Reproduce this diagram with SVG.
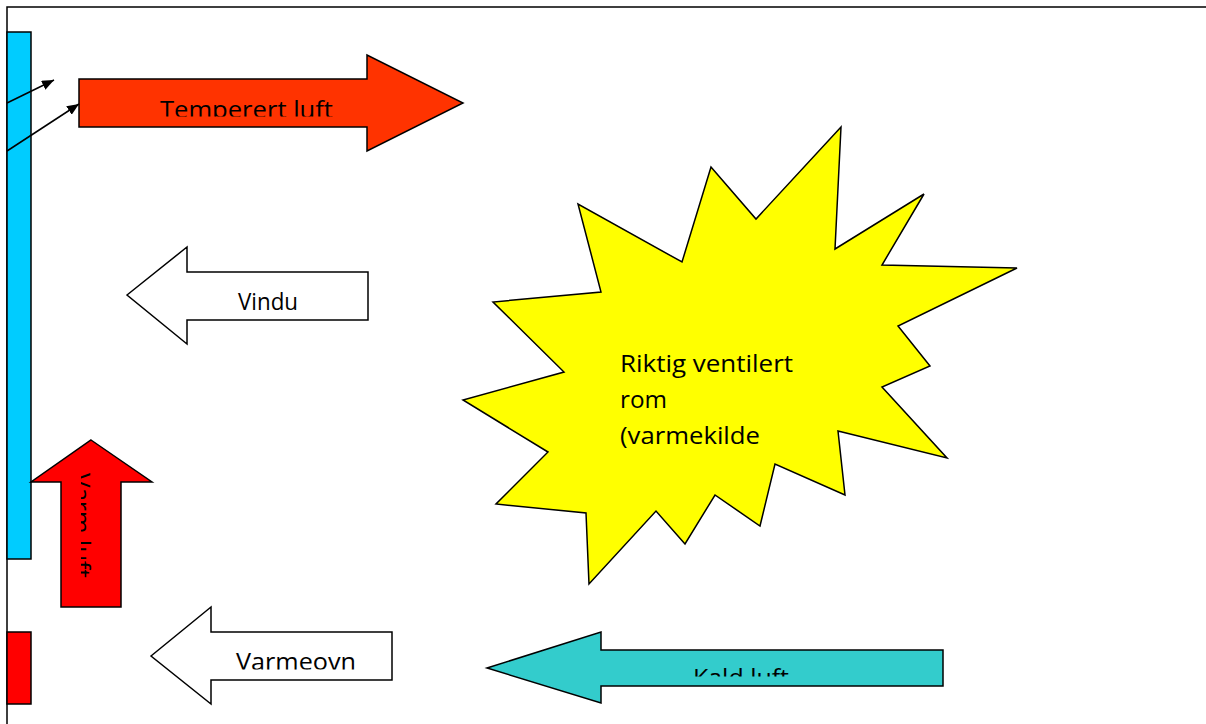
<svg xmlns="http://www.w3.org/2000/svg" width="1206" height="724" viewBox="0 0 1206 724">
<style>
.s{stroke:#000;stroke-width:1.5;stroke-linejoin:miter}
.t{font-family:"Open Sans","Noto Sans","Liberation Sans",sans-serif;font-size:24px;fill:#000}
.c{stroke:#000;stroke-width:1.5;fill:none}
</style>
<defs>
<marker id="ah" viewBox="0 0 12 10" refX="12" refY="5" markerWidth="12" markerHeight="10" markerUnits="userSpaceOnUse" orient="auto">
<path d="M0,0 L12,5 L0,10 z" fill="#000"/>
</marker>
<clipPath id="cTemp"><rect x="80" y="0" width="300" height="116.5"/></clipPath>
<clipPath id="cVarmeovn"><rect x="212" y="600" width="180" height="69.5"/></clipPath>
<clipPath id="cKald"><rect x="600" y="640" width="340" height="36.5"/></clipPath>
<clipPath id="cVarm"><rect x="81" y="440" width="40" height="170"/></clipPath>
</defs>
<rect width="1206" height="724" fill="#fff"/>
<g id="frame">
<path d="M7,724 L7,7 L1206,7" class="c"/>
</g>
<g id="window-bar">
<rect x="7" y="32" width="24" height="527" fill="#00CCFF" class="s"/>
</g>
<g id="heater-bar">
<rect x="7" y="632" width="24" height="72" fill="#FF0000" class="s"/>
</g>
<g id="temperert-luft">
<polygon points="79,79 367,79 367,55 463,103 367,151 367,127 79,127" fill="#FF3300" class="s"/>
<text class="t" x="160" y="118" textLength="173" lengthAdjust="spacingAndGlyphs" clip-path="url(#cTemp)">Temperert luft</text>
</g>
<g id="vindu">
<polygon points="127,295 187,247 187,272 368,272 368,320 187,320 187,344" fill="#fff" class="s"/>
<text class="t" x="238" y="310" textLength="60" lengthAdjust="spacingAndGlyphs">Vindu</text>
</g>
<g id="varm-luft">
<polygon points="91,440 152,482 121,482 121,607 61,607 61,482 31,482" fill="#FF0000" class="s"/>
<g clip-path="url(#cVarm)">
<text class="t" transform="translate(73,473) rotate(90)" x="0" y="0" textLength="105" lengthAdjust="spacingAndGlyphs">Varm luft</text>
</g>
</g>
<g id="varmeovn">
<polygon points="151,656 211,607 211,632 392,632 392,680 211,680 211,704" fill="#fff" class="s"/>
<text class="t" x="236" y="670" textLength="120" lengthAdjust="spacingAndGlyphs" clip-path="url(#cVarmeovn)">Varmeovn</text>
</g>
<g id="kald-luft">
<polygon points="487,668 601,632 601,650 943,650 943,686 601,686 601,703" fill="#33CCCC" class="s"/>
<text class="t" x="693" y="686" textLength="96" lengthAdjust="spacingAndGlyphs" clip-path="url(#cKald)">Kald luft</text>
</g>
<g id="rom">
<polygon points="841,127 835,249 924,194 882,265 1017,268 898,326 930,366 882,387 947,458 838,431 845,495 775,464 760,526 715,495 685,544 656,511 589,584 586,513 496,504 548,452 463,400 564,372 493,302 601,292 578,204 682,262 711,167 756,219" fill="#FFFF00" class="s"/>
<text class="t" x="620" y="372" textLength="173" lengthAdjust="spacingAndGlyphs">Riktig ventilert</text>
<text class="t" x="620" y="408" textLength="47" lengthAdjust="spacingAndGlyphs">rom</text>
<text class="t" x="620" y="444" textLength="140" lengthAdjust="spacingAndGlyphs">(varmekilde</text>
</g>
<g id="connectors">
<line x1="7" y1="103" x2="54" y2="80" class="c" marker-end="url(#ah)"/>
<line x1="7" y1="151" x2="79" y2="104" class="c" marker-end="url(#ah)"/>
</g>
</svg>
